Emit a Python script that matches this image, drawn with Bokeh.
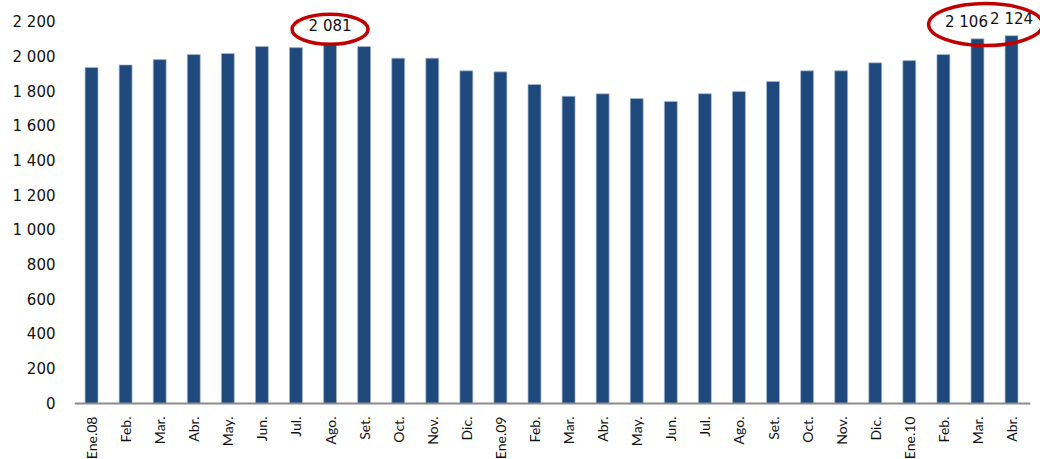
import math
from bokeh.plotting import figure
from bokeh.models import FixedTicker, Range1d, ColumnDataSource
from bokeh.core.properties import value
from bokeh.embed import file_html
from bokeh.resources import INLINE

months = ["Ene.08", "Feb.", "Mar.", "Abr.", "May.", "Jun.", "Jul.", "Ago.", "Set.", "Oct.",
          "Nov.", "Dic.", "Ene.09", "Feb.", "Mar.", "Abr.", "May.", "Jun.", "Jul.", "Ago.",
          "Set.", "Oct.", "Nov.", "Dic.", "Ene.10", "Feb.", "Mar.", "Abr."]
values = [1940, 1955, 1986, 2015, 2021, 2061, 2055, 2081, 2061, 1994,
          1994, 1921, 1915, 1842, 1774, 1788, 1761, 1744, 1789, 1801,
          1859, 1921, 1921, 1967, 1980, 2015, 2106, 2124]
y_ticks = [0, 200, 400, 600, 800, 1000, 1200, 1400, 1600, 1800, 2000, 2200]
y_tick_labels = ["0", "200", "400", "600", "800", "1 000", "1 200", "1 400",
                 "1 600", "1 800", "2 000", "2 200"]
labeled = [7, 26, 27]

def fmt(v):
    return f"{v:,}".replace(",", " ")

xs = list(range(len(months)))
src = ColumnDataSource(dict(x=xs, top=values, zero=[0] * len(xs), lab=months))

p = figure(width=1040, height=459, output_backend="svg", toolbar_location=None,
           x_range=Range1d(-0.5, 27.85), y_range=Range1d(-323, 2327),
           min_border_left=74, min_border_right=0, min_border_top=0, min_border_bottom=0)
p.outline_line_color = None
p.xgrid.visible = False
p.ygrid.visible = False
p.xaxis.visible = False
p.background_fill_color = "white"
p.border_fill_color = "white"

p.vbar(x="x", top="top", width=0.38, source=src, fill_color="#1F497D",
       line_color="#A9BCD4", line_width=0.7)

# baseline (category axis line)
p.segment(x0=[-0.5], y0=[0], x1=[len(months) - 0.45], y1=[0],
          line_color="#8C8C8C", line_width=2)

# category labels, rotated
p.text(x="x", y="zero", text="lab", source=src, angle=math.pi / 2,
       text_align="right", text_baseline="middle", y_offset=13,
       text_font=value("Lato"), text_font_size="14px", text_color="#111111")

# value labels
for i in labeled:
    xo = -11 if i == 26 else 0
    p.text(x=[xs[i]], y=[values[i]], text=[fmt(values[i])], text_align="center",
           text_baseline="bottom", y_offset=-8, x_offset=xo,
           text_font=value("DejaVu Sans"), text_font_size="15px", text_color="#111111")

# highlight ellipses
p.ellipse(x=[xs[7]], y=[values[7] + 80], width=76, height=30,
          width_units="screen", height_units="screen",
          fill_color=None, line_color="#C00000", line_width=3.5)
p.ellipse(x=[(xs[26] + xs[27]) / 2 - 0.26], y=[values[27] + 64], width=114, height=42,
          width_units="screen", height_units="screen",
          fill_color=None, line_color="#C00000", line_width=3.5)

# y axis
p.yaxis.ticker = FixedTicker(ticks=y_ticks)
p.yaxis.major_label_overrides = {t: l for t, l in zip(y_ticks, y_tick_labels)}
p.yaxis.axis_line_color = None
p.yaxis.major_tick_line_color = None
p.yaxis.minor_tick_line_color = None
p.yaxis.major_tick_out = 0
p.yaxis.major_tick_in = 0
p.yaxis.major_label_standoff = 19
p.yaxis.major_label_text_font = "DejaVu Sans"
p.yaxis.major_label_text_font_size = "15px"
p.yaxis.major_label_text_color = "#111111"

open("out.html", "w").write(file_html(p, INLINE))
